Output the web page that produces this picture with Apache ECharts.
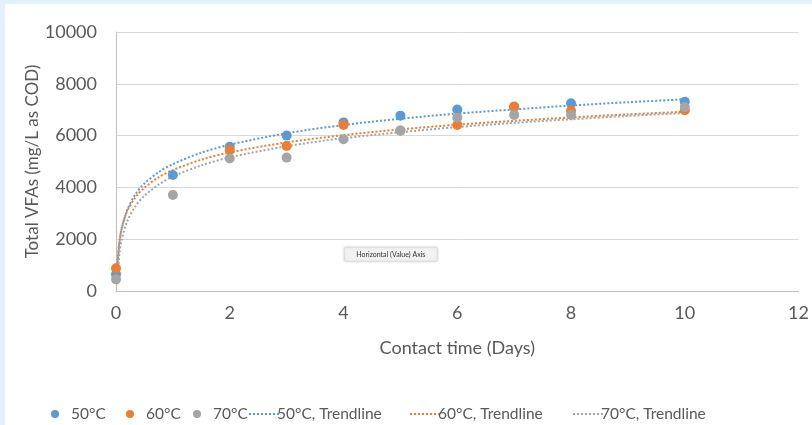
<!DOCTYPE html>
<html><head><meta charset="utf-8">
<script src="https://cdn.jsdelivr.net/npm/echarts@6/dist/echarts.min.js"></script>
<style>html,body{margin:0;padding:0;background:#fff}#c{width:812px;height:425px}</style>
</head><body><div id="c"></div>
<script>
// Measured points (days, mg/L as COD)
const days = [0, 1, 2, 3, 4, 5, 6, 7, 8, 10];
const vfa50 = [650, 4480, 5570, 6000, 6510, 6770, 7010, 7100, 7250, 7310];
const vfa60 = [880, null, 5440, 5600, 6410, 6200, 6410, 7120, 6960, 6980];
const vfa70 = [450, 3710, 5120, 5150, 5860, 6190, 6690, 6800, 6800, 7100];
// Trendlines
const trendX  = [0.015, 0.03, 0.06, 0.1, 0.2, 0.35, 0.5, 0.75, 1, 1.5, 2, 3, 4, 5, 6, 7, 8, 9, 10];
const trend50 = [340, 1090, 1850, 2400, 3150, 3760, 4150, 4590, 4900, 5340, 5650, 6090, 6410, 6650, 6850, 7010, 7160, 7290, 7400];
const trend60 = [570, 1240, 1920, 2420, 3100, 3640, 3990, 4390, 4670, 5070, 5350, 5740, 6020, 6240, 6420, 6570, 6700, 6820, 6920];
const trend70 = [null, 260, 1430, 1970, 2710, 3300, 3680, 4110, 4420, 4850, 5160, 5590, 5900, 6130, 6330, 6490, 6630, 6760, 6870];
const yTicks = [0, 2000, 4000, 6000, 8000, 10000];
const seriesNames = ['50°C', '60°C', '70°C', '50°C, Trendline', '60°C, Trendline', '70°C, Trendline'];
const colors = ['#5b9bd5', '#ed7d31', '#a5a5a5'];

const pairs = (xs, ys) => xs.map((x, i) => [x, ys[i]]).filter(p => p[1] != null);
const FONT = 'Lato';
const txt = '#595959';

const chart = echarts.init(document.getElementById('c'));
const scatterS = [vfa50, vfa60, vfa70].map((v, i) => ({
  name: seriesNames[i], type: 'scatter', data: pairs(days, v), symbolSize: 10,
  itemStyle: { color: colors[i], opacity: 1 }, z: 3
}));
const lineS = [trend50, trend60, trend70].map((v, i) => ({
  name: seriesNames[i + 3], type: 'line', data: pairs(trendX, v), smooth: 0.3, showSymbol: false, symbol: 'none',
  lineStyle: { color: colors[i], width: 2, type: [2, 2] }, itemStyle: { color: colors[i] }, z: 2
}));
const legendLeft = [46, 121, 188, 243, 404, 567];
const legends = seriesNames.map((n, i) => i < 3
  ? { data: [n], left: legendLeft[i], top: 401, icon: 'circle', itemWidth: 8, itemHeight: 8,
      textStyle: { fontFamily: FONT, fontSize: 15.5, color: txt, padding: [0, 0, 0, 7] } }
  : { data: [{ name: n, itemStyle: { opacity: 0 } }], left: legendLeft[i], top: 401, itemWidth: 30, itemHeight: 8,
      textStyle: { fontFamily: FONT, fontSize: 15.5, color: txt, padding: [0, 0, 0, -7] } });

chart.setOption({
  backgroundColor: '#ffffff',
  animation: false,
  grid: { left: 116, right: 12, top: 32, bottom: 134, containLabel: false },
  xAxis: {
    type: 'value', min: 0, max: 12, interval: 2,
    name: 'Contact time (Days)', nameLocation: 'middle', nameGap: 48,
    nameTextStyle: { fontFamily: FONT, fontSize: 18, color: txt },
    axisLine: { show: true, onZero: false, lineStyle: { color: '#bfbfbf', width: 1 } },
    axisTick: { show: false },
    axisLabel: { fontFamily: FONT, fontSize: 18, color: txt, margin: 13 },
    splitLine: { show: false }
  },
  yAxis: {
    type: 'value', min: 0, max: 10000, interval: 2000,
    name: 'Total VFAs (mg/L as COD)', nameLocation: 'middle', nameGap: 75, nameMoveOverlap: false,
    nameTextStyle: { fontFamily: FONT, fontSize: 17, color: txt },
    axisLine: { show: true, lineStyle: { color: '#bfbfbf', width: 1 } },
    axisTick: { show: false },
    axisLabel: { fontFamily: FONT, fontSize: 18, color: txt, margin: 19, formatter: v => yTicks.includes(v) ? String(v) : '' },
    splitLine: { lineStyle: { color: '#d9d9d9', width: 1 } }
  },
  legend: legends,
  graphic: [
    { type: 'rect', left: 0, top: 0, shape: { width: 812, height: 4 }, style: { fill: '#e1f2fa' }, silent: true },
    { type: 'rect', left: 0, top: 0, shape: { width: 5, height: 425 }, style: { fill: '#e1f2fa' }, silent: true },
    { type: 'group', left: 344, top: 247, children: [
      { type: 'rect', shape: { width: 93, height: 14, r: 1 }, style: { fill: '#f2f2f2', stroke: '#d0d0d0', lineWidth: 0.6, shadowBlur: 3, shadowColor: 'rgba(0,0,0,0.15)' } },
      { type: 'text', x: 46.5, y: 7, style: { text: 'Horizontal (Value) Axis', fontFamily: FONT, fontSize: 7, fill: '#333', align: 'center', verticalAlign: 'middle' } }
    ] }
  ],
  series: [...lineS, ...scatterS]
});
</script></body></html>
